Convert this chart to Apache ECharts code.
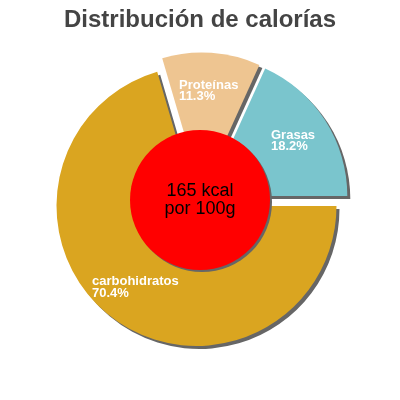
<!DOCTYPE html>
<html>
<head>
<meta charset="utf-8">
<script src="https://cdn.jsdelivr.net/npm/echarts@6/dist/echarts.min.js"></script>
<style>html,body{margin:0;padding:0;background:#fff}#c{width:400px;height:400px}</style>
</head>
<body>
<div id="c"></div>
<script>
const titleText = 'Distribución de calorías';
const categories = ['Grasas', 'Proteínas', 'carbohidratos'];
const values = [18.2, 11.3, 70.4];
const colors = ['#7AC5CD', '#EEC591', '#DAA520'];
const centerLabel = ['165 kcal', 'por 100g'];

const font = 'Liberation Sans, Arial, sans-serif';
const shadow = { shadowColor: '#666666', shadowBlur: 0, shadowOffsetX: 3, shadowOffsetY: 3 };
const pieCenter = [201, 200];
const offset = 7.5;

const wedgeData = categories.map((name, i) => ({
  name: name,
  value: values[i],
  selected: true,
  itemStyle: Object.assign({ color: colors[i] }, shadow),
  select: { itemStyle: Object.assign({ color: colors[i], borderWidth: 0 }, shadow) }
}));
const labelData = categories.map((name, i) => ({
  name: name,
  value: values[i],
  selected: true,
  itemStyle: { color: 'rgba(0,0,0,0)' },
  select: { itemStyle: { color: 'rgba(0,0,0,0)', borderWidth: 0 } }
}));

const chart = echarts.init(document.getElementById('c'), null, { renderer: 'canvas' });
chart.setOption({
  animation: false,
  title: {
    text: titleText,
    left: 'center',
    top: 3,
    textStyle: { fontFamily: font, fontSize: 24, fontWeight: 'bold', color: '#444444' }
  },
  series: [
    {
      type: 'pie',
      center: pieCenter,
      radius: 140,
      startAngle: 0,
      clockwise: false,
      selectedMode: 'multiple',
      selectedOffset: offset,
      avoidLabelOverlap: false,
      silent: true,
      emphasis: { disabled: true, scale: false },
      label: { show: false },
      labelLine: { show: false },
      data: wedgeData,
      z: 2
    },
    {
      type: 'pie',
      center: [200, 200],
      radius: 70,
      silent: true,
      emphasis: { disabled: true, scale: false },
      labelLine: { show: false },
      label: {
        show: true,
        position: 'center',
        formatter: centerLabel.join('\n'),
        fontFamily: font,
        fontSize: 18,
        lineHeight: 18,
        color: '#000000'
      },
      data: [{ name: 'centro', value: 1, itemStyle: { color: '#FF0000', shadowColor: '#666666', shadowBlur: 0, shadowOffsetX: 2, shadowOffsetY: 2 } }],
      z: 3
    },
    {
      type: 'pie',
      center: pieCenter,
      radius: [58, 140],
      startAngle: 0,
      clockwise: false,
      selectedMode: 'multiple',
      selectedOffset: offset,
      avoidLabelOverlap: false,
      silent: true,
      emphasis: { disabled: true, scale: false },
      labelLine: { show: false },
      label: {
        show: true,
        position: 'inside',
        formatter: '{a|{b}}\n{a|{c}%}',
        rich: {
          a: { align: 'left', fontFamily: font, fontSize: 13, fontWeight: 'bold', lineHeight: 11.5, color: '#ffffff' }
        }
      },
      data: labelData,
      z: 4
    }
  ]
});
</script>
</body>
</html>
